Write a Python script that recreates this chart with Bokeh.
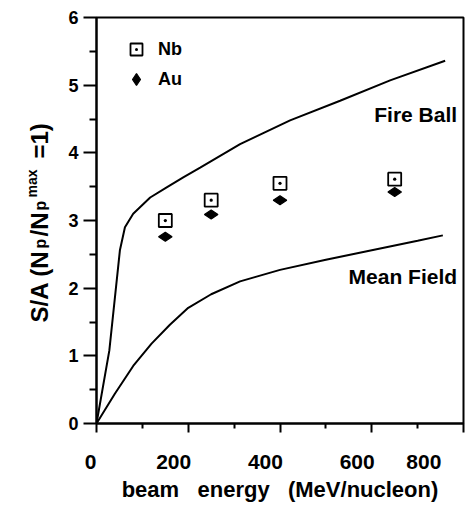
import math
from bokeh.plotting import figure
from bokeh.layouts import row
from bokeh.models import Label, Legend, LegendItem, FixedTicker, Range1d
from bokeh.core.properties import value
from bokeh.embed import file_html
from bokeh.resources import INLINE

# ---- data ----
fire_e = [0, 28, 51, 62, 80, 117, 153, 190, 226, 313, 422, 531, 640, 760]
fire_s = [0, 1.08, 2.56, 2.90, 3.10, 3.34, 3.49, 3.64, 3.78, 4.13, 4.48, 4.77,
          5.07, 5.36]

mean_e = [0, 40, 80, 120, 160, 200, 250, 313, 400, 500, 600, 700, 755]
mean_s = [0, 0.44, 0.85, 1.18, 1.46, 1.71, 1.91, 2.10, 2.27, 2.42, 2.56, 2.70, 2.78]

beam_e = [150, 250, 400, 650]
nb_s = [3.00, 3.30, 3.55, 3.61]
au_s = [2.76, 3.09, 3.30, 3.42]

x_ticks = [0, 200, 400, 600, 800]
x_tick_labels = ["0", "200", "400", "600", "800"]
x_minor = [100, 300, 500, 700]
y_ticks = [0, 1, 2, 3, 4, 5, 6]
y_minor = [0.5, 1.5, 2.5, 3.5, 4.5, 5.5]

x_title = "beam\u00a0\u00a0 energy\u00a0\u00a0 (MeV/nucleon)"

# y-axis title pieces: text, role, where each piece starts (S/A units)
ytitle_text = ["S/A (N", "p", "/N", "p", "max", "=1)"]
ytitle_role = ["main", "sub", "main", "sub", "sup", "main"]
ytitle_pos = [1.493, 2.586, 2.763, 3.148, 3.340, 3.916]

FONT = "Liberation Sans"
NBSP = "\u00a0"

yr = Range1d(0, 6)

p = figure(width=410, height=505, output_backend="svg", toolbar_location=None,
           x_range=Range1d(0, 800), y_range=yr,
           min_border_left=36, min_border_right=7, min_border_top=17,
           min_border_bottom=82)
p.grid.visible = False
p.outline_line_color = "black"
p.outline_line_width = 2
p.background_fill_color = "white"
p.border_fill_color = "white"

# axes
p.xaxis.ticker = FixedTicker(ticks=x_ticks, minor_ticks=x_minor)
p.yaxis.ticker = FixedTicker(ticks=y_ticks, minor_ticks=y_minor)
for ax in (p.xaxis[0], p.yaxis[0]):
    ax.axis_line_width = 2
    ax.major_tick_line_width = 2
    ax.minor_tick_line_width = 2
    ax.major_tick_in = 0
    ax.minor_tick_in = 0
    ax.major_label_text_font = FONT
    ax.major_label_text_font_style = "bold"
    ax.major_label_text_color = "black"
p.xaxis.major_tick_out = 9
p.xaxis.minor_tick_out = 5
# trailing pad: the reference's tick numbers sit left of their ticks
p.xaxis.major_label_overrides = {
    t: lab + NBSP * (2 if len(lab) == 1 else 5) for t, lab in zip(x_ticks, x_tick_labels)}
p.xaxis.major_label_text_font_size = "21px"
p.xaxis.major_label_standoff = 17
p.xaxis.axis_label = x_title
p.xaxis.axis_label_text_font = FONT
p.xaxis.axis_label_text_font_style = "bold"
p.xaxis.axis_label_text_font_size = "22px"
p.xaxis.axis_label_text_color = "black"
p.xaxis.axis_label_standoff = 1
p.yaxis.major_tick_out = 13
p.yaxis.minor_tick_out = 7
p.yaxis.major_label_standoff = 5
p.yaxis.major_label_text_font_size = "18px"

# curves
p.line(fire_e, fire_s, line_color="black", line_width=2)
p.line(mean_e, mean_s, line_color="black", line_width=2)

# data points
r_nb = p.scatter(beam_e, nb_s, marker="square_dot", size=13, line_color="black",
                 line_width=1.8, fill_color="white")
r_au = p.scatter(beam_e, au_s, marker="diamond", angle=math.pi / 2, size=13.5,
                 line_color="black", line_width=1.2, fill_color="black")

legend = Legend(items=[LegendItem(label="Nb", renderers=[r_nb]),
                       LegendItem(label="Au", renderers=[r_au])],
                location=(25, 329), border_line_color=None,
                background_fill_alpha=0, padding=0, margin=0, spacing=0,
                glyph_width=30, glyph_height=30, label_height=30,
                label_standoff=7, label_text_font=FONT, label_text_color="black",
                label_text_font_style="bold", label_text_font_size="18px")
p.add_layout(legend, "center")

# curve names
for txt, yy in (("Fire Ball", 4.56), ("Mean Field", 2.17)):
    p.add_layout(Label(x=786, y=yy, text=txt, text_align="right",
                       text_baseline="middle", text_font=FONT, text_color="black",
                       text_font_style="bold", text_font_size="21px"))

# left strip holding the rotated y-axis title (with sub/superscripts)
lf = figure(width=60, height=505, output_backend="svg", toolbar_location=None,
            x_range=Range1d(0, 60), y_range=yr, x_axis_type=None, y_axis_type=None,
            min_border_left=0, min_border_right=0, min_border_top=17,
            min_border_bottom=82)
lf.outline_line_color = None
lf.grid.visible = False
lf.border_fill_color = "white"

role_x = {"main": 39, "sub": 39.5, "sup": 31}
role_fs = {"main": "24px", "sub": "16px", "sup": "14px"}
for role in ("main", "sub", "sup"):
    idx = [i for i, r in enumerate(ytitle_role) if r == role]
    lf.text(x=[role_x[role]] * len(idx), y=[ytitle_pos[i] for i in idx],
            text=[ytitle_text[i] for i in idx], angle=math.pi / 2,
            text_align="left", text_baseline="alphabetic",
            text_font=value(FONT), text_font_style="bold",
            text_font_size=value(role_fs[role]), text_color="black")

layout = row(lf, p)
open("out.html", "w").write(file_html(layout, INLINE))
